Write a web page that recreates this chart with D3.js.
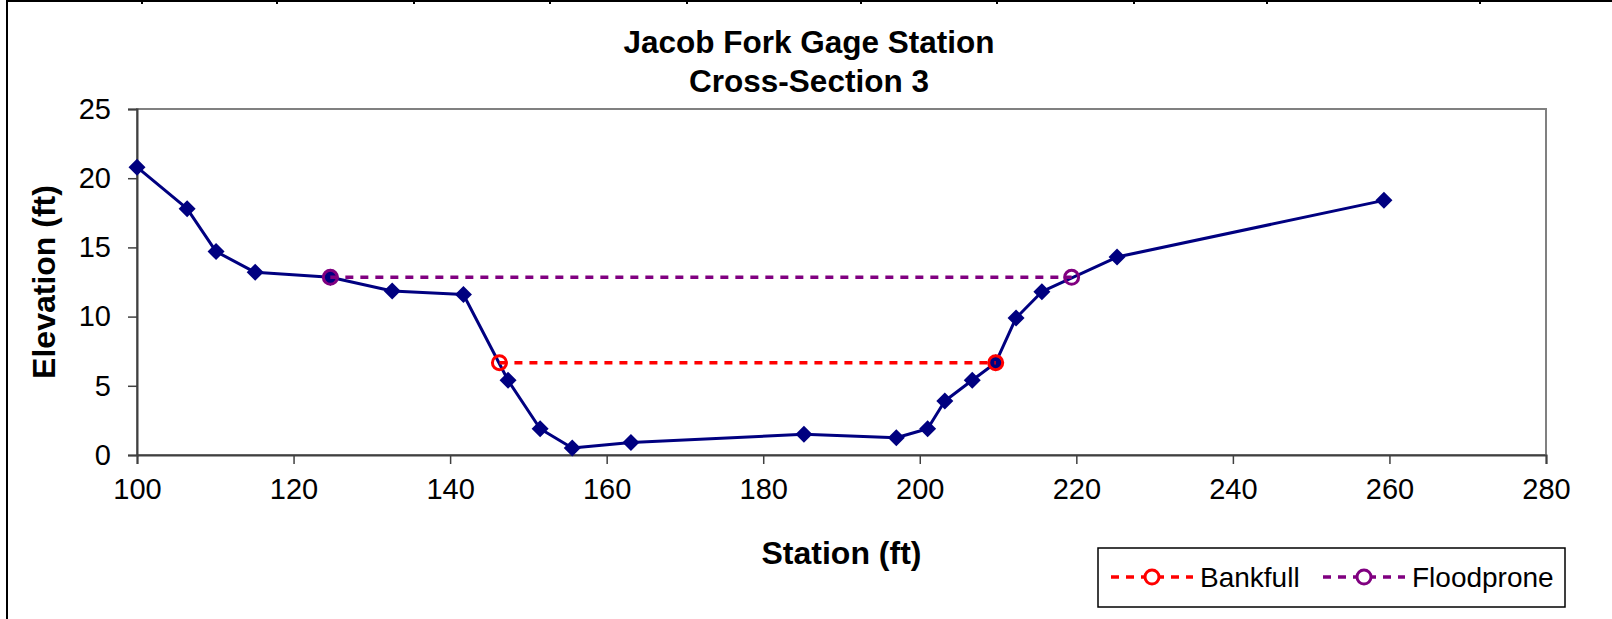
<!DOCTYPE html>
<html>
<head>
<meta charset="utf-8">
<script src="https://cdn.jsdelivr.net/npm/d3@7"></script>
<style>
  html, body { margin: 0; padding: 0; background: #fff; }
  svg { display: block; font-family: Arial, "Liberation Sans", sans-serif; }
</style>
</head>
<body>
<svg id="chart" width="1612" height="619"></svg>
<script>
// Surveyed cross-section: station (ft) and ground elevation (ft)
const station   = [100, 106.4, 110.1, 115.1, 124.7, 132.6, 141.7, 147.4, 151.5, 155.6, 163.1,
                   185.2, 197.0, 201.0, 203.2, 206.7, 209.7, 212.3, 215.6, 225.2, 259.3];
const elevation = [20.8, 17.8, 14.7, 13.2, 12.84, 11.85, 11.6, 5.4, 1.9, 0.5, 0.9,
                   1.5, 1.25, 1.9, 3.9, 5.4, 6.67, 9.9, 11.8, 14.3, 18.4];

// Bankfull and floodprone water surfaces
const bankfullStation   = [146.3, 209.7];
const bankfullElev      = [6.67, 6.67];
const floodproneStation = [124.7, 219.4];
const floodproneElev    = [12.84, 12.84];

const xTicks = [100, 120, 140, 160, 180, 200, 220, 240, 260, 280];
const yTicks = [0, 5, 10, 15, 20, 25];

const titleLines = ["Jacob Fork Gage Station", "Cross-Section 3"];
const legendNames = ["Bankfull", "Floodprone"];

// Worksheet cell borders visible above the chart object
const sheetColumns = [142, 277, 414, 550, 687, 861, 997, 1134, 1267, 1480];

const svg = d3.select("#chart");
const plot = { left: 137, right: 1546, top: 109, bottom: 455 };

const x = d3.scaleLinear().domain([100, 280]).range([plot.left, plot.right]);
const y = d3.scaleLinear().domain([0, 25]).range([plot.bottom, plot.top]);

// sheet grid + chart frame
svg.append("line").attr("x1", 7).attr("x2", 1612).attr("y1", 1).attr("y2", 1)
  .attr("stroke", "#000").attr("stroke-width", 2);
svg.selectAll(".col").data(sheetColumns).join("line")
  .attr("x1", d => d).attr("x2", d => d).attr("y1", 0).attr("y2", 4)
  .attr("stroke", "#000").attr("stroke-width", 2);
svg.append("line").attr("x1", 7).attr("x2", 7).attr("y1", 0).attr("y2", 619)
  .attr("stroke", "#000").attr("stroke-width", 2);

// plot area border
svg.append("rect")
  .attr("x", plot.left).attr("y", plot.top)
  .attr("width", plot.right - plot.left).attr("height", plot.bottom - plot.top)
  .attr("fill", "none").attr("stroke", "#808080").attr("stroke-width", 2);

// axes
const xAxis = d3.axisBottom(x).tickValues(xTicks).tickSize(9).tickPadding(14)
  .tickFormat(d3.format("d"));
const gx = svg.append("g").attr("transform", `translate(0,${plot.bottom})`).call(xAxis);
gx.select(".domain").attr("stroke", "#404040").attr("stroke-width", 2);
gx.selectAll(".tick line").attr("stroke", "#404040").attr("stroke-width", 1.5);
gx.selectAll("text").attr("font-size", 29).attr("fill", "#000")
  .attr("font-family", "Arial, 'Liberation Sans', sans-serif");

const yAxis = d3.axisLeft(y).tickValues(yTicks).tickSize(9).tickPadding(17)
  .tickFormat(d3.format("d"));
const gy = svg.append("g").attr("transform", `translate(${plot.left},0)`).call(yAxis);
gy.select(".domain").attr("stroke", "#404040").attr("stroke-width", 2);
gy.selectAll(".tick line").attr("stroke", "#404040").attr("stroke-width", 1.5);
gy.selectAll("text").attr("font-size", 29).attr("fill", "#000")
  .attr("font-family", "Arial, 'Liberation Sans', sans-serif");

// titles
svg.selectAll(".title").data(titleLines).join("text")
  .attr("x", 809).attr("y", (d, i) => 53 + i * 39)
  .attr("text-anchor", "middle").attr("font-size", 31.5).attr("font-weight", "bold")
  .text(d => d);

svg.append("text").attr("x", (plot.left + plot.right) / 2).attr("y", 564)
  .attr("text-anchor", "middle").attr("font-size", 32).attr("font-weight", "bold")
  .text("Station (ft)");

svg.append("text")
  .attr("transform", `translate(55,${(plot.top + plot.bottom) / 2}) rotate(-90)`)
  .attr("text-anchor", "middle").attr("font-size", 32).attr("font-weight", "bold")
  .text("Elevation (ft)");

// ground profile
const ground = station.map((s, i) => ({ s, e: elevation[i] }));
const line = d3.line().x(d => x(d.s)).y(d => y(d.e));
svg.append("path").datum(ground).attr("d", line)
  .attr("fill", "none").attr("stroke", "#000080").attr("stroke-width", 3)
  .attr("stroke-linejoin", "round");
svg.selectAll(".pt").data(ground).join("path")
  .attr("transform", d => `translate(${x(d.s)},${y(d.e)})`)
  .attr("d", "M0,-8.5L8.5,0L0,8.5L-8.5,0Z").attr("fill", "#000080");

// water surface lines
const surfaces = [
  { name: legendNames[0], color: "#FF0000",
    pts: bankfullStation.map((s, i) => ({ s, e: bankfullElev[i] })) },
  { name: legendNames[1], color: "#800080",
    pts: floodproneStation.map((s, i) => ({ s, e: floodproneElev[i] })) }
];
surfaces.forEach(sf => {
  svg.append("path").datum(sf.pts).attr("d", line)
    .attr("fill", "none").attr("stroke", sf.color).attr("stroke-width", 3.5)
    .attr("stroke-dasharray", "8,7");
  svg.selectAll(null).data(sf.pts).join("circle")
    .attr("cx", d => x(d.s)).attr("cy", d => y(d.e)).attr("r", 7)
    .attr("fill", "none").attr("stroke", sf.color).attr("stroke-width", 3);
});

// legend
const lg = svg.append("g");
lg.append("rect").attr("x", 1098).attr("y", 548).attr("width", 467).attr("height", 59)
  .attr("fill", "#fff").attr("stroke", "#000").attr("stroke-width", 1.5);
const legendX = [1111, 1323];
surfaces.forEach((sf, i) => {
  const gx0 = legendX[i];
  lg.append("line").attr("x1", gx0).attr("x2", gx0 + 82).attr("y1", 577).attr("y2", 577)
    .attr("stroke", sf.color).attr("stroke-width", 3.5).attr("stroke-dasharray", "8,7");
  lg.append("circle").attr("cx", gx0 + 41).attr("cy", 577).attr("r", 7)
    .attr("fill", "#fff").attr("stroke", sf.color).attr("stroke-width", 3);
  lg.append("text").attr("x", gx0 + 89).attr("y", 587).attr("font-size", 28)
    .text(sf.name);
});
</script>
</body>
</html>
